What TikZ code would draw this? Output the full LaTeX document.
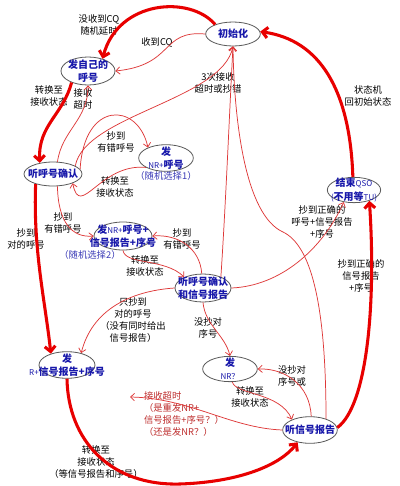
\documentclass[tikz,border=0pt]{standalone}
\usepackage{fontspec}
\setmainfont{Noto Sans CJK SC}
\usetikzlibrary{shapes.geometric,arrows.meta}
\definecolor{nodeblue}{RGB}{24,24,170}
\definecolor{linered}{RGB}{222,55,55}
\definecolor{boldred}{RGB}{232,0,0}
\definecolor{textred}{RGB}{190,45,45}
\newcommand{\lat}[1]{{\mdseries\fontsize{6}{7}\selectfont #1}}
\tikzset{
    state/.style={ellipse,draw=black!65,line width=0.6pt,fill=white,text=nodeblue,
        font=\bfseries\fontsize{7.5}{10}\selectfont,align=center,inner xsep=-30pt,inner ysep=-20pt},
    note/.style={font=\fontsize{7}{9}\selectfont,align=center,inner sep=0pt},
    pick/.style={font=\fontsize{7}{9}\selectfont,text=nodeblue!85,inner sep=0pt},
    tline/.style={draw=linered,line width=0.55pt,-{Straight Barb[length=3pt,width=5.5pt]}},
    bline/.style={draw=boldred,line width=2.3pt,-{Straight Barb[length=4pt,width=8pt]}},
}

\begin{document}
\begin{tikzpicture}[x=0.75pt,y=-0.75pt]
    \fill[white](0,0)rectangle(400,486);
    \useasboundingbox(0,0)rectangle(400,486);
    \node[state,minimum width=41pt,minimum height=18pt](init)at(233,34){初始化};
    \node[state,minimum width=40.5pt,minimum height=21pt](own)at(88,71){发自己的\\呼号};
    \node[state,minimum width=43.5pt,minimum height=18pt](listen1)at(53,174){听呼号确认};
    \node[state,minimum width=41pt,minimum height=20pt](nr1)at(166,158){发\\\lat{NR+}呼号};
    \node[state,minimum width=40pt,minimum height=19pt](end)at(354,190){结束\lat{QSO}\\\lat{(}不用等\lat{TU)}};
    \node[state,minimum width=43.5pt,minimum height=21pt](nr2)at(123,236){发\lat{NR+}呼号+\\信号报告+序号};
    \node[state,minimum width=42pt,minimum height=21pt](listen2)at(203,288){听呼号确认\\和信号报告};
    \node[state,minimum width=42pt,minimum height=20pt](r)at(67,365){发\\\lat{R+}信号报告+序号};
    \node[state,minimum width=41pt,minimum height=19pt](nrq)at(230,369){发\\\lat{NR？}};
    \node[state,minimum width=41pt,minimum height=20pt](listen3)at(310,430){听信号报告};
    \coordinate(lost)at(130,397);

    \node[note](nocq)at(99,25){没收到CQ\\随机延时};
    \node[note](gotcq)at(157,42){收到CQ};
    \node[note](sw1)at(49,96){转换至\\接收状态};
    \node[note](tmo)at(83,99){接收\\超时};
    \node[note](err3)at(218,83){3次接收\\超时或抄错};
    \node[note](back)at(368,96){状态机\\回初始状态};
    \node[note](bad1)at(116,142){抄到\\有错呼号};
    \node[note](sw2)at(115,187){转换至\\接收状态};
    \node[pick](pick1)at(166,176){（随机选择1）};
    \node[note](bad2)at(63,223){抄到\\有错呼号};
    \node[note](ok1)at(26,239){抄到\\对的呼号};
    \node[note](bad3)at(182,239){抄到\\有错呼号};
    \node[pick](pick2)at(90,255){（随机选择2）};
    \node[note](sw3)at(145,266){转换至\\接收状态};
    \node[note](only)at(133,320){只抄到\\对的呼号\\（没有同时给出\\信号报告）};
    \node[note](ok2)at(322,222){抄到正确的\\呼号+信号报告\\+序号};
    \node[note](ok3)at(361,276){抄到正确的\\信号报告\\+序号};
    \node[note](noseq)at(208,328){没抄对\\序号};
    \node[note](noseq2)at(292,376){没抄对\\序号或};
    \node[note](sw4)at(250,397){转换至\\接收状态};
    \node[note,text=textred,align=left](lostnote)at(184,414){接收超时\\（是重发NR+\\信号报告+序号？）\\（还是发NR？）};
    \node[note](sw5)at(96,462){转换至\\接收状态\\（等信号报告和序号）};

    \draw[bline](init.152)..controls(190,-5)and(118,0)..(own.40);
    \draw[bline](own.215)..controls(63,115)and(38,125)..(listen1.140);
    \draw[bline](listen1.210)..controls(33,250)and(45,300)..(r.145);
    \draw[bline](r.south)..controls(68,440)and(110,486)..(180,484)..controls(240,482)and(280,465)..(listen3.225);
    \draw[bline](listen3.5)..controls(368,405)and(376,300)..(end.325);
    \draw[bline](end.95)..controls(350,90)and(320,40)..(init.5);

    \draw[tline](init.west)..controls(160,30)and(175,65)..(own.east);
    \draw[tline](listen1.70)..controls(62,130)and(88,120)..(own.270);
    \draw[tline](listen1.20)..controls(85,115)and(222,100)..(init.south);
    \draw[tline](listen2.32)..controls(226,200)and(230,100)..(init.south);
    \draw[tline](listen3.35)..controls(326,300)and(310,245)..(283,232)..controls(245,215)and(234,120)..(init.south);
    \draw[tline](listen1.10)..controls(84,100)and(138,102)..(nr1.150);
    \draw[tline](nr1.205)..controls(100,163)and(80,220)..(listen1.335);
    \draw[tline](listen1.290)..controls(58,222)and(72,238)..(nr2.west);
    \draw[tline](nr2.south)..controls(125,265)and(165,258)..(listen2.150);
    \draw[tline](listen2.95)..controls(200,248)and(178,234)..(nr2.east);
    \draw[tline](listen2.west)..controls(130,291)and(92,310)..(r.40);
    \draw[tline](listen2.east)..controls(280,286)and(322,250)..(end.230);
    \draw[tline](listen2.south)..controls(205,325)and(225,335)..(nrq.north);
    \draw[tline](nrq.280)..controls(236,395)and(280,392)..(listen3.150);
    \draw[tline](listen3.85)..controls(310,385)and(285,368)..(nrq.east);
    \draw[tline](listen3.west)..controls(230,428)and(190,398)..(lost);
\end{tikzpicture}
\end{document}
